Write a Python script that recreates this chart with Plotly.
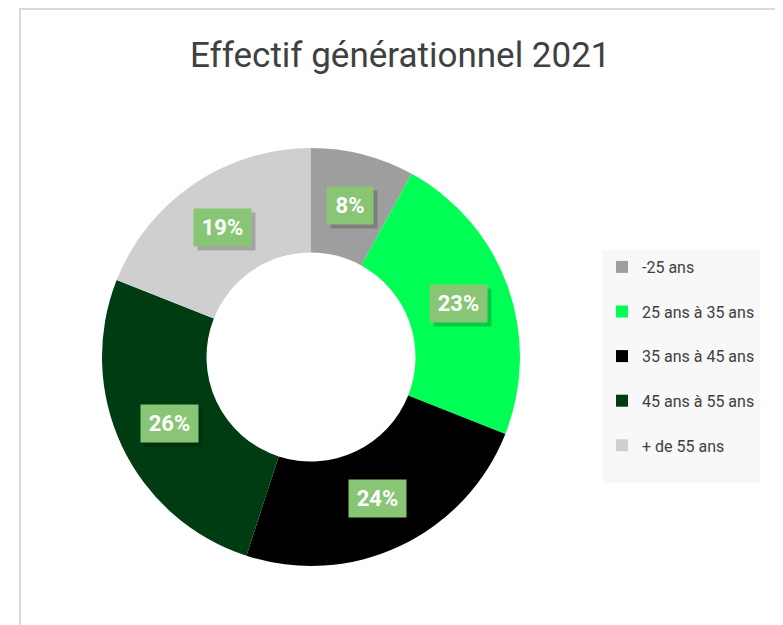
import math
import plotly.graph_objects as go

# page is offset by the 8px body margin, so the figure is 8px smaller
OFF = 8
W, H = 783 - OFF, 625 - OFF

TITLE = 'Effectif générationnel 2021'
CATEGORIES = ['-25 ans', '25 ans à 35 ans', '35 ans à 45 ans',
              '45 ans à 55 ans', '+ de 55 ans']
SHARES = [8, 23, 24, 26, 19]
COLORS = ['#9E9E9E', '#00FF55', '#000000', '#003C12', '#D0CFCF']

FONT = 'Roboto'
LABEL_BG = '#88C676'


def px(x, y):
    """page pixel -> paper coords"""
    return (x - OFF) / W, 1 - (y - OFF) / H


# donut geometry in page pixels
left, right, top, bottom = 102, 520, 148, 566
cx_px, cy_px = (left + right) / 2, (top + bottom) / 2
radius = (right - left) / 2
hole = 0.5
mid_r = radius * (1 + hole) / 2

fig = go.Figure()

x0, y1 = px(left, top)
x1, y0 = px(right, bottom)
fig.add_trace(go.Pie(
    labels=[c + '<br> ' for c in CATEGORIES],
    values=SHARES,
    sort=False,
    direction='clockwise',
    rotation=0,
    hole=hole,
    marker=dict(colors=COLORS, line=dict(width=0)),
    textinfo='none',
    hovertemplate='%{customdata}: %{percent}<extra></extra>',
    customdata=CATEGORIES,
    domain=dict(x=[x0, x1], y=[y0, y1]),
))

# percentage boxes sitting in the middle of each ring segment
total = sum(SHARES)
cum = 0
for v in SHARES:
    ang = 2 * math.pi * (cum + v / 2) / total
    cum += v
    lx = cx_px + mid_r * math.sin(ang)
    ly = cy_px - mid_r * math.cos(ang)
    pct = '{:.0f}%'.format(100.0 * v / total)
    bw = 24 + 11 * len(pct)
    sx, sy = px(lx + 4, ly + 4)
    fig.add_annotation(
        x=sx, y=sy, xref='paper', yref='paper',
        xanchor='center', yanchor='middle',
        text=' ', showarrow=False, width=bw, height=37,
        bgcolor='rgba(0,0,0,0.2)', borderpad=0)
    ax, ay = px(lx, ly)
    fig.add_annotation(
        x=ax, y=ay, xref='paper', yref='paper',
        xanchor='center', yanchor='middle',
        text='<b>' + pct + '</b>', showarrow=False, width=bw, height=37,
        font=dict(family=FONT, size=22, color='white'),
        bgcolor=LABEL_BG, borderpad=0)

tx, ty = px(400, 56)
fig.add_annotation(
    x=tx, y=ty, xref='paper', yref='paper',
    xanchor='center', yanchor='middle',
    text=TITLE, showarrow=False,
    font=dict(family=FONT, size=35, color='#404040'))

# outer chart border
bx0, by1 = px(20, 9)
bx1, _ = px(778, 0)
fig.add_shape(type='rect', xref='paper', yref='paper',
              x0=bx0, x1=bx1, y0=-0.02, y1=by1,
              line=dict(color='#D9D9D9', width=2), layer='below')

lx0, ly0 = px(602, 250)
fig.update_layout(
    width=W, height=H,
    margin=dict(l=0, r=0, t=0, b=0),
    paper_bgcolor='white',
    plot_bgcolor='white',
    font=dict(family=FONT, color='#404040'),
    legend=dict(
        x=lx0, y=ly0, xanchor='left', yanchor='top',
        bgcolor='#F8F8F8',
        font=dict(family=FONT, size=16, color='#404040'),
        traceorder='normal', valign='top',
    ),
)

fig.write_html('out.html')
